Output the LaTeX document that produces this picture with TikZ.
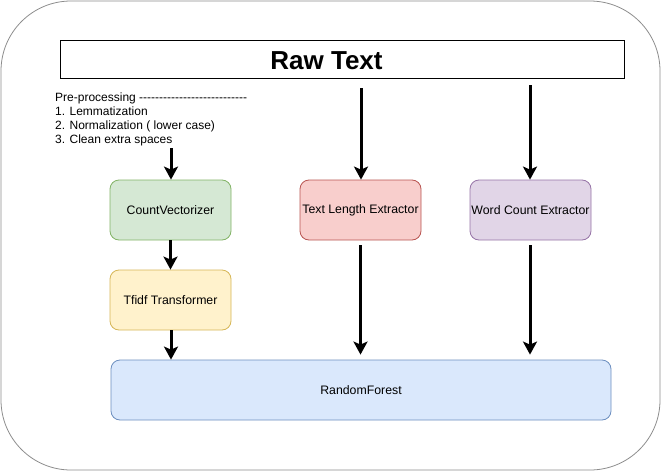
\documentclass[tikz,border=0pt]{standalone}
\usepackage{fontspec}
\setmainfont{Liberation Sans}[Ligatures=TeXOff]
\usetikzlibrary{arrows.meta,calc}
\definecolor{gfill}{HTML}{D5E8D4}\definecolor{gline}{HTML}{82B366}
\definecolor{rfill}{HTML}{F8CECC}\definecolor{rline}{HTML}{B85450}
\definecolor{pfill}{HTML}{E1D5E7}\definecolor{pline}{HTML}{9673A6}
\definecolor{yfill}{HTML}{FFF2CC}\definecolor{yline}{HTML}{D6B656}
\definecolor{bfill}{HTML}{DAE8FC}\definecolor{bline}{HTML}{6C8EBF}
\definecolor{frame}{HTML}{8C8C8C}
\begin{document}
\begin{tikzpicture}[x=1pt,y=-1pt,
  stepbox/.style={draw,rounded corners=9pt,minimum width=121pt,minimum height=60pt,inner sep=0pt,font=\fontsize{12.3}{14}\selectfont,line width=0.8pt},
  flow/.style={line width=3pt,-{Stealth[length=13pt,width=14pt,inset=3pt]}}]
\useasboundingbox (0,0) rectangle (661,471);
\draw[frame,line width=0.8pt,rounded corners=70pt] (1,1) rectangle (660,470);
\node[draw,line width=1pt,minimum width=564pt,minimum height=38.5pt,inner sep=0pt] (rawbox) at (342,59.5) {};
\node[inner sep=0pt,font=\fontsize{26}{28}\selectfont\bfseries] (raw) at (326.5,61) {Raw Text};
\node[anchor=north west,align=left,inner sep=0pt,font=\fontsize{12}{13.9}\selectfont] (pre) at (55,93) {Pre-processing ---------------------------\\1. Lemmatization\\2. Normalization ( lower case)\\3. Clean extra spaces};
\node[stepbox,fill=gfill,draw=gline] (cv) at (170.5,210) {CountVectorizer};
\node[stepbox,fill=rfill,draw=rline] (tl) at (360.5,210) {Text Length Extractor};
\node[stepbox,fill=pfill,draw=pline] (wc) at (530.5,210) {Word Count Extractor};
\node[stepbox,fill=yfill,draw=yline] (tf) at (170.5,300) {Tfidf Transformer};
\node[stepbox,fill=bfill,draw=bline,minimum width=500pt] (rf) at (361,390) {RandomForest};
\coordinate (p0) at (171,148);
\coordinate (t0) at (361,88);
\coordinate (w0) at (530,85);
\draw[flow] (p0) -- (p0 |- cv.north);
\draw[flow] (t0) -- (t0 |- tl.north);
\draw[flow] (w0) -- (w0 |- wc.north);
\draw[flow] (cv.south) -- (tf.north);
\draw[flow] (tf.south -| 171,0) -- (171,0 |- rf.north);
\draw[flow,shorten <=5pt,shorten >=5pt] (tl.south) -- (tl.south |- rf.north);
\draw[flow,shorten <=5pt,shorten >=5pt] (wc.south -| 530,0) -- (530,0 |- rf.north);
\end{tikzpicture}
\end{document}
